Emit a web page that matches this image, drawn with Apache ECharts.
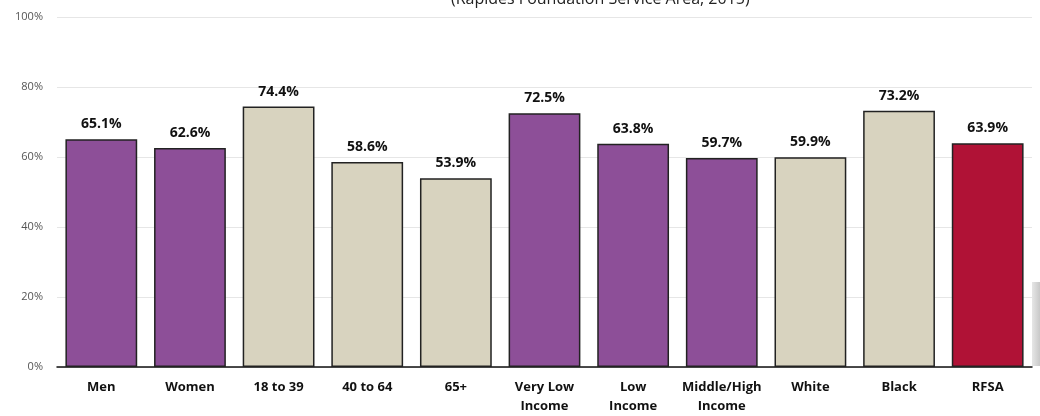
<!DOCTYPE html>
<html>
<head>
<meta charset="utf-8">
<script src="https://cdn.jsdelivr.net/npm/echarts@6/dist/echarts.min.js"></script>
<style>
  html, body { margin: 0; padding: 0; background: #fff; }
  #chart { width: 1040px; height: 416px; }
</style>
</head>
<body>
<div id="chart"></div>
<script>
const categories = ['Men', 'Women', '18 to 39', '40 to 64', '65+', 'Very Low\nIncome', 'Low\nIncome', 'Middle/High\nIncome', 'White', 'Black', 'RFSA']
const values = [65.1, 62.6, 74.4, 58.6, 53.9, 72.5, 63.8, 59.7, 59.9, 73.2, 63.9]
// group of each bar: p = purple, b = beige, r = red (total)
const groups = ['p', 'p', 'b', 'b', 'b', 'p', 'p', 'p', 'b', 'b', 'r']
const yTicks = [0, 20, 40, 60, 80, 100]

const colors = { p: '#8d4f98', b: '#d8d3bf', r: '#b01236' }

const chart = echarts.init(document.getElementById('chart'))
chart.setOption({
  animation: false,
  title: {
    text: '(Rapides Foundation Service Area, 2015)',
    left: 446,
    top: -14,
    textStyle: { fontFamily: 'Open Sans', fontWeight: 'normal', fontSize: 16, color: '#222' }
  },
  grid: { left: 57, right: 8, top: 17, bottom: 47 },
  xAxis: {
    type: 'category',
    data: categories,
    axisLine: { lineStyle: { color: '#111', width: 1.5 } },
    axisTick: { show: false },
    axisLabel: {
      interval: 0,
      margin: 11,
      fontFamily: 'Open Sans',
      fontWeight: 'bold',
      fontSize: 13,
      lineHeight: 19,
      color: '#111'
    }
  },
  yAxis: {
    type: 'value',
    min: 0,
    max: 100,
    interval: 20,
    axisLine: { show: false },
    axisTick: { show: false },
    splitLine: { lineStyle: { color: '#e6e6e6', width: 1.2 } },
    axisLabel: {
      margin: 14,
      fontFamily: 'Open Sans',
      fontSize: 11,
      color: '#555',
      formatter: v => (yTicks.includes(v) ? v + '%' : '')
    }
  },
  series: [{
    type: 'bar',
    barCategoryGap: '19%',
    data: values.map((v, i) => ({
      value: v,
      itemStyle: { color: colors[groups[i]] }
    })),
    itemStyle: { borderColor: '#222', borderWidth: 1.5 },
    label: {
      show: true,
      position: 'top',
      distance: 8,
      formatter: p => p.value.toFixed(1) + '%',
      fontFamily: 'Open Sans',
      fontWeight: 'bold',
      fontSize: 14,
      color: '#111'
    }
  }],
  graphic: [{
    type: 'rect',
    left: 1032,
    top: 282,
    shape: { width: 8, height: 84 },
    style: {
      fill: new echarts.graphic.LinearGradient(0, 0, 1, 0, [
        { offset: 0, color: '#e6e6e6' },
        { offset: 1, color: '#c8c8c8' }
      ])
    }
  }]
})
</script>
</body>
</html>
